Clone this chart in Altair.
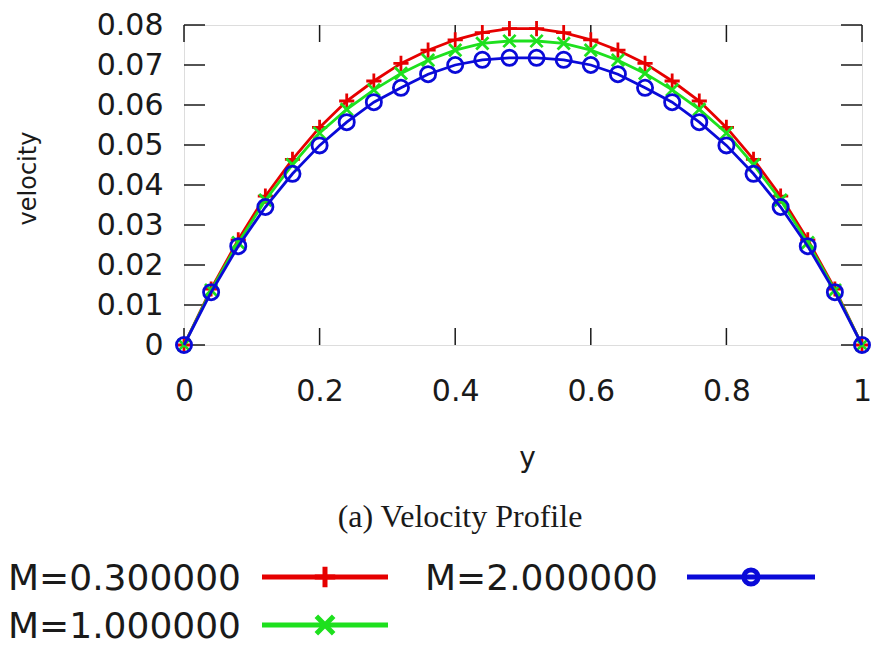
import altair as alt
import pandas as pd

# ---------------- data ----------------
y_coord = [0.00, 0.04, 0.08, 0.12, 0.16, 0.20, 0.24, 0.28, 0.32, 0.36, 0.40, 0.44, 0.48,
           0.52, 0.56, 0.60, 0.64, 0.68, 0.72, 0.76, 0.80, 0.84, 0.88, 0.92, 0.96, 1.00]
vel_M03 = [0, 0.0140, 0.0263, 0.0372, 0.0464, 0.0544, 0.0610, 0.0660, 0.0704, 0.0737, 0.0763, 0.0781, 0.0791,
           0.0791, 0.0781, 0.0763, 0.0737, 0.0704, 0.0660, 0.0610, 0.0544, 0.0464, 0.0372, 0.0263, 0.0140, 0]
vel_M10 = [0, 0.0137, 0.0256, 0.0362, 0.0451, 0.0530, 0.0589, 0.0638, 0.0679, 0.0712, 0.0737, 0.0754, 0.0760,
           0.0760, 0.0754, 0.0737, 0.0712, 0.0679, 0.0638, 0.0589, 0.0530, 0.0451, 0.0362, 0.0256, 0.0137, 0]
vel_M20 = [0, 0.0132, 0.0247, 0.0345, 0.0428, 0.0499, 0.0557, 0.0607, 0.0643, 0.0677, 0.0700, 0.0713, 0.0718,
           0.0718, 0.0713, 0.0700, 0.0677, 0.0643, 0.0607, 0.0557, 0.0499, 0.0428, 0.0345, 0.0247, 0.0132, 0]
series_labels = ["M=0.300000", "M=1.000000", "M=2.000000"]
x_ticks = [0, 0.2, 0.4, 0.6, 0.8, 1.0]
y_ticks = [0, 0.01, 0.02, 0.03, 0.04, 0.05, 0.06, 0.07, 0.08]
caption = "(a) Velocity Profile"

# ---------------- style ----------------
W, H = 678, 320
colors = ["#e60000", "#1ee01e", "#0a0ad8"]
shapes = ["M-1,0L1,0M0,-1L0,1", "M-1,-1L1,1M-1,1L1,-1", "circle"]
sizes = [230, 150, 230]
FONT = "DejaVu Sans"
INK = "#1a1a1a"

xs = alt.Scale(domain=[0, 1], nice=False, zero=False)
ys = alt.Scale(domain=[0, 0.08], nice=False, zero=False)

x_axis = alt.Axis(values=x_ticks, title="y", grid=False, domain=False, ticks=False,
                  labelExpr="datum.value == 0 ? '0' : datum.value == 1 ? '1' : format(datum.value, '.1f')",
                  labelFont=FONT, labelFontSize=30, labelColor=INK, labelPadding=31,
                  labelFlush=False, labelOverlap=False,
                  titleFont=FONT, titleFontSize=28, titleFontWeight="normal", titleColor=INK,
                  titleX=343, titleY=121, titleAlign="center", titleBaseline="alphabetic")
y_axis = alt.Axis(values=y_ticks, title="velocity", grid=False, domain=False, ticks=False,
                  labelExpr="datum.value == 0 ? '0' : format(datum.value, '.2f')",
                  labelFont=FONT, labelFontSize=30, labelColor=INK, labelPadding=21,
                  labelFlush=False, labelOverlap=False, labelBaseline="middle",
                  titleFont=FONT, titleFontSize=24, titleFontWeight="normal", titleColor=INK,
                  titleAngle=270, titleX=-156, titleY=153, titleAlign="center", titleBaseline="middle")

layers = []

# inward ticks (mirrored on all four sides)
tx = pd.DataFrame({"t": x_ticks})
ty = pd.DataFrame({"t": y_ticks})
tick_kw = dict(color=INK, strokeWidth=1.5)
layers.append(alt.Chart(tx).mark_rule(**tick_kw).encode(
    x=alt.X("t:Q", scale=xs, axis=x_axis), y=alt.value(H), y2=alt.value(H - 17)))
layers.append(alt.Chart(tx).mark_rule(**tick_kw).encode(
    x=alt.X("t:Q", scale=xs, axis=x_axis), y=alt.value(0), y2=alt.value(17)))
layers.append(alt.Chart(ty).mark_rule(**tick_kw).encode(
    y=alt.Y("t:Q", scale=ys, axis=y_axis), x=alt.value(0), x2=alt.value(21)))
layers.append(alt.Chart(ty).mark_rule(**tick_kw).encode(
    y=alt.Y("t:Q", scale=ys, axis=y_axis), x=alt.value(W - 21), x2=alt.value(W)))

# data series
for vals, lab, col, shp, sz in zip([vel_M03, vel_M10, vel_M20], series_labels, colors, shapes, sizes):
    df = pd.DataFrame({"y": y_coord, "velocity": vals, "series": lab})
    enc = dict(x=alt.X("y:Q", scale=xs, axis=x_axis), y=alt.Y("velocity:Q", scale=ys, axis=y_axis))
    layers.append(alt.Chart(df).mark_line(color=col, strokeWidth=2.8).encode(**enc))
    layers.append(alt.Chart(df).mark_point(shape=shp, size=sz, color=col, filled=False,
                                           strokeWidth=2.8, opacity=1).encode(**enc))

# caption
cap_df = pd.DataFrame({"text": [caption]})
layers.append(alt.Chart(cap_df).mark_text(font="Liberation Serif", fontSize=32, color=INK,
                                           align="center", baseline="middle").encode(
    text="text:N", x=alt.value(276), y=alt.value(492)))

# custom legend (gnuplot style: label then sample)
leg_text_pos = [(57, 565), (57, 613), (474, 565)]
leg_line_pos = [(78, 204, 552), (78, 204, 600), (503, 631, 552)]
leg_sizes = [420, 300, 200]
for lab, col, shp, lsz, (tx_, ty_), (x1, x2, yl) in zip(series_labels, colors, shapes, leg_sizes,
                                                          leg_text_pos, leg_line_pos):
    ldf = pd.DataFrame({"label": [lab]})
    layers.append(alt.Chart(ldf).mark_text(font=FONT, fontSize=36, color=INK, align="right",
                                            baseline="alphabetic").encode(
        text="label:N", x=alt.value(tx_), y=alt.value(ty_)))
    layers.append(alt.Chart(ldf).mark_rule(color=col, strokeWidth=5).encode(
        x=alt.value(x1), x2=alt.value(x2), y=alt.value(yl)))
    layers.append(alt.Chart(ldf).mark_point(shape=shp, size=lsz, color=col, filled=False,
                                             strokeWidth=5, opacity=1).encode(
        x=alt.value((x1 + x2) / 2), y=alt.value(yl)))

chart = alt.layer(*layers).properties(
    width=W, height=H,
    autosize=alt.AutoSizeParams(type="none"),
    padding={"left": 176, "top": 17, "right": 11, "bottom": 306},
).configure_view(stroke=INK, strokeWidth=1.5).configure(background="white")

chart.save("out.html", embed_options={"renderer": "svg", "actions": False})
